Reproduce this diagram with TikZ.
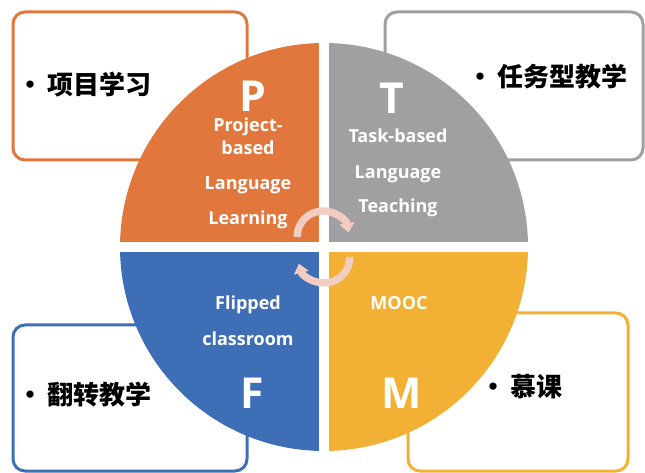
\documentclass[tikz,border=0pt]{standalone}
\usepackage{fontspec}
\setsansfont{Open Sans}
\newfontfamily\cjk{Noto Sans CJK SC}
\usetikzlibrary{arrows.meta}
\definecolor{naranja}{HTML}{E2773E}
\definecolor{gris}{HTML}{A0A0A3}
\definecolor{azul}{HTML}{3E6FB6}
\definecolor{amarillo}{HTML}{F2B134}
\definecolor{rosa}{HTML}{F3CDC2}
\tikzset{
  caja/.style={line width=2.25pt, rounded corners=9pt},
  chino/.style={anchor=west, inner sep=0pt, font=\cjk\bfseries\fontsize{19.5}{22}\selectfont},
  letra/.style={anchor=base, inner sep=0pt, text=white, font=\sffamily\bfseries\fontsize{32}{36}\selectfont},
  texto/.style={anchor=base, inner sep=0pt, text=white, font=\sffamily\bfseries\fontsize{13.5}{16}\selectfont},
  giro/.style={rosa, line width=5.5pt, -{Triangle[width=11pt,length=7pt]}}
}
\begin{document}
\begin{tikzpicture}[x=0.75pt, y=0.75pt]
    \useasboundingbox (0,0) rectangle (645,-473);

    % Cajas de fondo
    \draw[caja, naranja] (13,-12) rectangle (247,-160);
    \draw[caja, gris] (385,-12) rectangle (643,-160);
    \draw[caja, azul] (13,-325) rectangle (247,-471);
    \draw[caja, amarillo] (408,-313) rectangle (628,-471);

    % Textos de las cajas
    \node[chino] (cP) at (17,-85) {•\hspace{0.15em}项目学习};
    \node[chino] (cT) at (467,-77) {•\hspace{0.15em}任务型教学};
    \node[chino] (cF) at (17,-395) {•\hspace{0.15em}翻转教学};
    \node[chino] (cM) at (480,-387) {•\hspace{0.15em}慕课};

    % Circulo en cuatro partes
    \begin{scope}
        \clip (324,-247) circle[radius=204];
        \fill[naranja] (324,-247) rectangle (110,-35);
        \fill[gris] (324,-247) rectangle (540,-35);
        \fill[azul] (324,-247) rectangle (110,-460);
        \fill[amarillo] (324,-247) rectangle (540,-460);
    \end{scope}
    \draw[white, line width=7.5pt] (324,-38) -- (324,-456);
    \draw[white, line width=7.5pt] (115,-247) -- (533,-247);

    % Letras grandes
    \node[letra] (P) at (253,-112) {P};
    \node[letra] (T) at (392,-114) {T};
    \node[letra] (F) at (252,-408) {F};
    \node[letra] (M) at (402,-408) {M};

    % Textos en ingles
    \node[texto] (p1) at (248,-132) {Project-};
    \node[texto] (p2) at (248,-155) {based};
    \node[texto] (p3) at (248,-190) {Language};
    \node[texto] (p4) at (248,-225) {Learning};
    \node[texto] (t1) at (398,-143) {Task-based};
    \node[texto] (t2) at (398,-179) {Language};
    \node[texto] (t3) at (398,-213) {Teaching};
    \node[texto] (f1) at (248,-310) {Flipped};
    \node[texto] (f2) at (248,-345) {classroom};
    \node[texto] (m1) at (399,-310) {MOOC};

    % Flechas de giro
    \coordinate (g1) at (297,-237);
    \coordinate (g2) at (350,-257);
    \draw[giro] (g1) arc[start angle=180, end angle=10, radius=26];
    \draw[giro] (g2) arc[start angle=0, end angle=-165, radius=26];

\end{tikzpicture}
\end{document}
